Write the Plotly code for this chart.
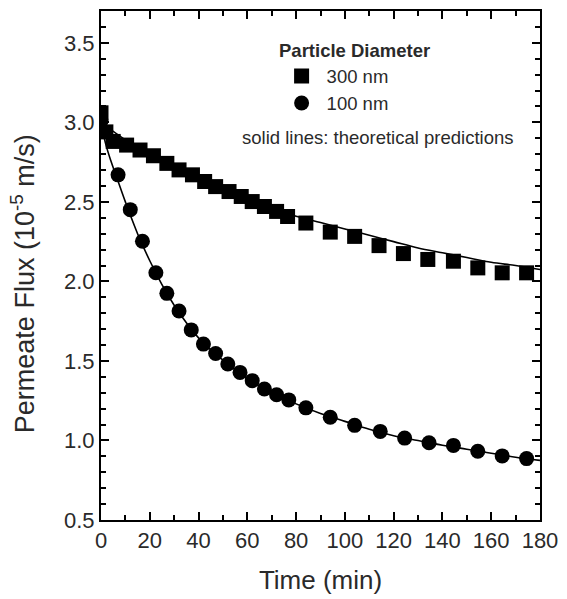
import plotly.graph_objects as go

# 300 nm particles (squares)
t_300 = [0, 2, 5, 10.5, 16, 21.5, 27, 32, 37.5, 42.5, 47, 52.5, 57.5, 62, 67, 72, 76.5,
         84, 94, 104, 114, 124, 134, 144.5, 154.5, 164.5, 174.5]
flux_300 = [3.06, 2.94, 2.88, 2.857, 2.826, 2.79, 2.742, 2.701, 2.67, 2.628, 2.596, 2.565,
            2.534, 2.502, 2.471, 2.44, 2.408,
            2.367, 2.31, 2.283, 2.225, 2.175, 2.138, 2.127, 2.085, 2.054, 2.054]

# 100 nm particles (circles)
t_100 = [0, 7, 12, 17, 22.5, 27, 32, 37, 42, 47, 52, 57, 62, 67, 72, 77,
         84, 94, 104, 114.5, 124.5, 134.5, 144.5, 154.5, 164.5, 174.5]
flux_100 = [3.01, 2.67, 2.451, 2.252, 2.054, 1.925, 1.814, 1.695, 1.606, 1.547, 1.481, 1.428,
            1.376, 1.324, 1.287, 1.255,
            1.205, 1.146, 1.095, 1.057, 1.015, 0.986, 0.969, 0.932, 0.903, 0.886]

# theoretical predictions (solid lines)
t_theory_300 = [0, 10, 20, 30, 40, 50, 60, 70, 80, 90, 100, 110, 120, 130, 140, 150, 160, 170, 180]
theory_300 = [3.0, 2.89, 2.80, 2.72, 2.65, 2.58, 2.52, 2.46, 2.41, 2.37, 2.33, 2.29, 2.25,
              2.21, 2.18, 2.15, 2.12, 2.10, 2.075]

t_theory_100 = [0, 2, 4, 7, 10, 15, 20, 25, 30, 35, 40, 45, 50, 60, 70, 80, 90, 100, 110,
                120, 130, 140, 150, 160, 170, 180]
theory_100 = [3.0, 2.86, 2.76, 2.63, 2.50, 2.30, 2.13, 1.98, 1.85, 1.74, 1.645, 1.57, 1.505,
              1.39, 1.30, 1.23, 1.17, 1.12, 1.07, 1.03, 1.0, 0.97, 0.945, 0.92, 0.895, 0.875]

FONT = "Liberation Sans, Arial, Helvetica, sans-serif"
TXT = "#2a2a2a"

fig = go.Figure()
fig.add_trace(go.Scatter(x=t_theory_300, y=theory_300, mode="lines", line_shape="spline",
                         line=dict(color="black", width=1.6), showlegend=False))
fig.add_trace(go.Scatter(x=t_theory_100, y=theory_100, mode="lines", line_shape="spline",
                         line=dict(color="black", width=1.6), showlegend=False))
fig.add_trace(go.Scatter(x=t_300, y=flux_300, mode="markers", name="300 nm",
                         marker=dict(symbol="square", size=15, color="black")))
fig.add_trace(go.Scatter(x=t_100, y=flux_100, mode="markers", name="100 nm",
                         marker=dict(symbol="circle", size=15, color="black")))

axis_common = dict(
    showline=True, linecolor="black", linewidth=2, mirror="ticks",
    ticks="inside", ticklen=8, tickwidth=2, tickcolor="black",
    showgrid=False, zeroline=False,
    tickfont=dict(family=FONT, size=22, color=TXT),
)

fig.update_xaxes(range=[0, 180], dtick=20, tick0=0,
                 minor=dict(dtick=10, ticks="inside", ticklen=5, tickwidth=2, tickcolor="black"),
                 title=dict(text="Time (min)", font=dict(family=FONT, size=26, color=TXT), standoff=18),
                 **axis_common)
fig.update_yaxes(range=[0.5, 3.7], dtick=0.5, tick0=0.5, tickformat=".1f",
                 minor=dict(dtick=0.1, ticks="inside", ticklen=5, tickwidth=2, tickcolor="black"),
                 **axis_common)

fig.update_layout(
    width=567, height=599,
    margin=dict(l=101, r=25, t=9, b=79),
    plot_bgcolor="white", paper_bgcolor="white",
    font=dict(family=FONT, color=TXT),
    legend=dict(
        x=0.400, y=0.956, xanchor="left", yanchor="top",
        bgcolor="rgba(0,0,0,0)",
        itemwidth=40,
        font=dict(family=FONT, size=18.5, color=TXT),
        title=dict(text="<b>Particle Diameter</b>", side="top center",
                   font=dict(family=FONT, size=18.5, color=TXT)),
        itemsizing="trace",
    ),
    annotations=[
        dict(text="solid lines: theoretical predictions", x=0.630, y=0.751,
             xref="paper", yref="paper", showarrow=False, xanchor="center", yanchor="middle",
             font=dict(family=FONT, size=18.5, color=TXT)),
        dict(text="Permeate Flux (10<sup>-5</sup> m/s)", textangle=-90,
             x=-0.178, y=0.465, xref="paper", yref="paper", showarrow=False,
             xanchor="center", yanchor="middle",
             font=dict(family=FONT, size=27, color=TXT)),
    ],
)

fig.write_html("out.html")
